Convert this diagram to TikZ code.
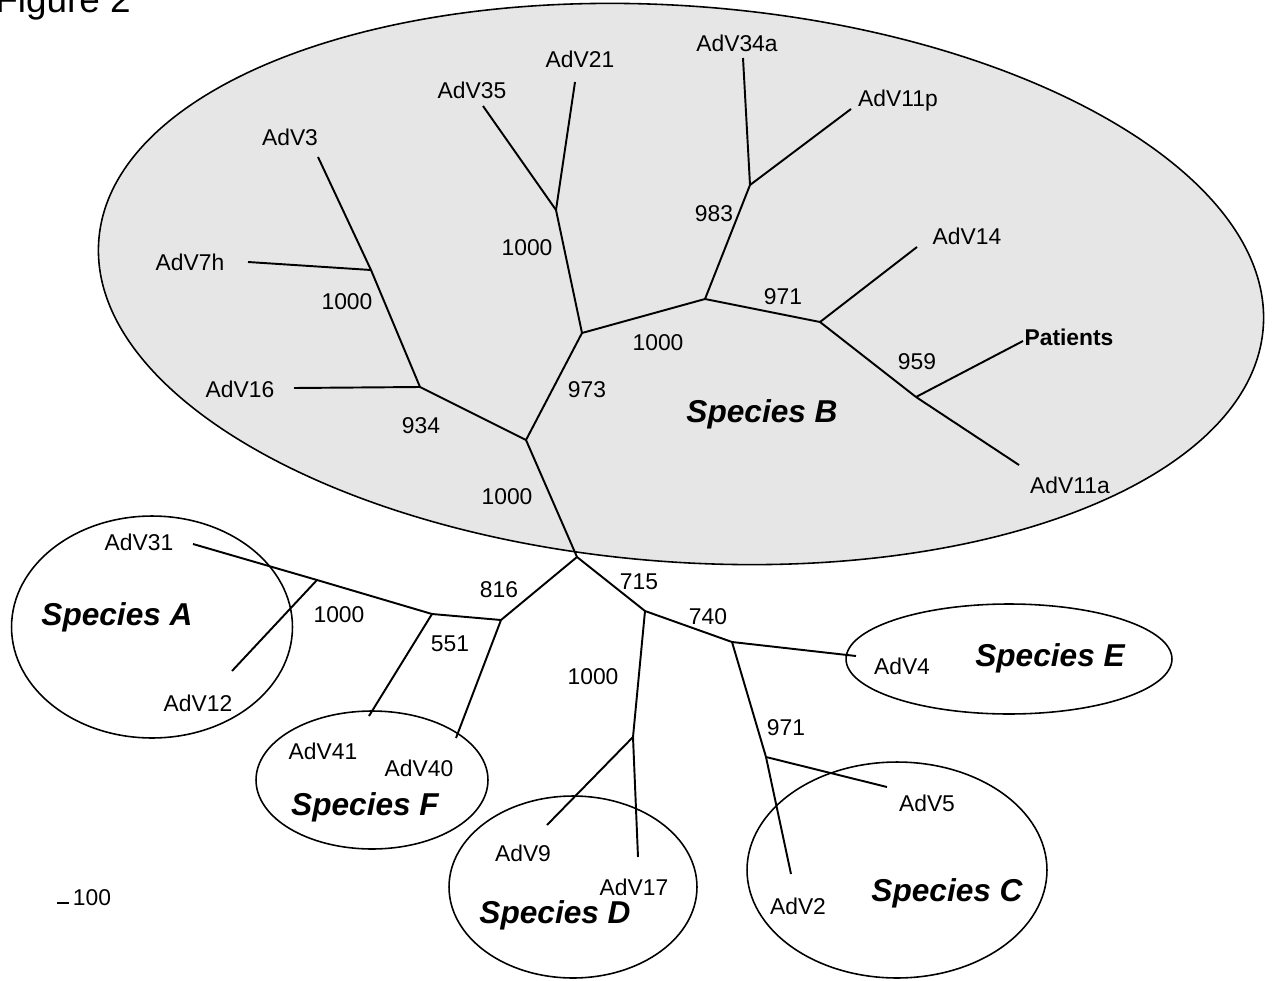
\documentclass[tikz,border=0pt]{standalone}
\usepackage{fontspec}
\setmainfont{Liberation Sans}
\definecolor{bgB}{RGB}{230,230,230}
\begin{document}
\begin{tikzpicture}[x=0.02cm,y=-0.02cm,
  lbl/.style={font=\fontsize{13}{15}\selectfont, inner sep=0pt},
  boot/.style={font=\fontsize{13}{15}\selectfont, inner sep=0pt},
  spec/.style={font=\fontsize{18}{21}\selectfont\bfseries\itshape, inner sep=0pt},
  branch/.style={line width=1.1pt},
  grp/.style={line width=0.9pt}]
\useasboundingbox (0,0) rectangle (1274,980);
% group outlines
\draw[grp, fill=bgB] (681,284) ellipse [x radius=11.68cm, y radius=5.56cm, rotate=-4.3];
\draw[grp] (152,627) ellipse [x radius=2.81cm, y radius=2.22cm];
\draw[grp] (372,780) ellipse [x radius=2.32cm, y radius=1.38cm];
\draw[grp] (573,887) ellipse [x radius=2.48cm, y radius=1.82cm];
\draw[grp] (897,870) ellipse [x radius=3.00cm, y radius=2.16cm];
\draw[grp] (1009,659) ellipse [x radius=3.26cm, y radius=1.10cm];
% tree points
\coordinate (root) at (577,557);
\coordinate (nB) at (526,440);
\coordinate (n934) at (420,387);
\coordinate (n1000a) at (371,270);
\coordinate (e16) at (294,388);
\coordinate (e7h) at (248,262);
\coordinate (e3) at (318,157);
\coordinate (n973) at (582,333);
\coordinate (n1000b) at (556,210);
\coordinate (e35) at (483,106);
\coordinate (e21) at (575,82);
\coordinate (n1000c) at (705,299);
\coordinate (n983) at (750,185);
\coordinate (e34a) at (743,58);
\coordinate (e11p) at (851,109);
\coordinate (n971) at (820,322);
\coordinate (e14) at (917,247);
\coordinate (n959) at (916,397);
\coordinate (ePat) at (1023,341);
\coordinate (e11a) at (1019,465);
\coordinate (n816) at (501,620);
\coordinate (n551) at (432,614);
\coordinate (nA) at (317,580);
\coordinate (e31) at (193,544);
\coordinate (e12) at (232,671);
\coordinate (e41) at (369,716);
\coordinate (e40) at (456,738);
\coordinate (n715) at (645,611);
\coordinate (nD) at (633,737);
\coordinate (e9) at (547,825);
\coordinate (e17) at (638,857);
\coordinate (n740) at (732,642);
\coordinate (e4) at (856,656);
\coordinate (nC) at (766,757);
\coordinate (e5) at (887,787);
\coordinate (e2) at (791,874);
% branches
\draw[branch] (root) -- (nB);
\draw[branch] (nB) -- (n934);
\draw[branch] (n934) -- (e16);
\draw[branch] (n934) -- (n1000a);
\draw[branch] (n1000a) -- (e7h);
\draw[branch] (n1000a) -- (e3);
\draw[branch] (nB) -- (n973);
\draw[branch] (n973) -- (n1000b);
\draw[branch] (n1000b) -- (e35);
\draw[branch] (n1000b) -- (e21);
\draw[branch] (n973) -- (n1000c);
\draw[branch] (n1000c) -- (n983);
\draw[branch] (n983) -- (e34a);
\draw[branch] (n983) -- (e11p);
\draw[branch] (n1000c) -- (n971);
\draw[branch] (n971) -- (e14);
\draw[branch] (n971) -- (n959);
\draw[branch] (n959) -- (ePat);
\draw[branch] (n959) -- (e11a);
\draw[branch] (root) -- (n816);
\draw[branch] (n816) -- (n551);
\draw[branch] (n551) -- (nA);
\draw[branch] (nA) -- (e31);
\draw[branch] (nA) -- (e12);
\draw[branch] (n551) -- (e41);
\draw[branch] (n816) -- (e40);
\draw[branch] (root) -- (n715);
\draw[branch] (n715) -- (nD);
\draw[branch] (nD) -- (e9);
\draw[branch] (nD) -- (e17);
\draw[branch] (n715) -- (n740);
\draw[branch] (n740) -- (e4);
\draw[branch] (n740) -- (nC);
\draw[branch] (nC) -- (e5);
\draw[branch] (nC) -- (e2);
% leaf labels
\node[lbl] (tAdV21) at (580,59) {AdV21};
\node[lbl] (tAdV35) at (472,90) {AdV35};
\node[lbl] (tAdV34a) at (737,43) {AdV34a};
\node[lbl] (tAdV11p) at (898,101) {AdV11p};
\node[lbl] (tAdV3) at (290,137) {AdV3};
\node[lbl] (tAdV7h) at (190,262) {AdV7h};
\node[lbl] (tAdV14) at (967,236) {AdV14};
\node[lbl, font=\fontsize{13}{15}\selectfont\bfseries] (tPat) at (1069,337) {Patients};
\node[lbl] (tAdV16) at (240,389) {AdV16};
\node[lbl] (tAdV11a) at (1070,485) {AdV11a};
\node[lbl] (tAdV31) at (139,542) {AdV31};
\node[lbl] (tAdV12) at (198,703) {AdV12};
\node[lbl] (tAdV41) at (323,751) {AdV41};
\node[lbl] (tAdV40) at (419,768) {AdV40};
\node[lbl] (tAdV9) at (523,853) {AdV9};
\node[lbl] (tAdV17) at (634,887) {AdV17};
\node[lbl] (tAdV4) at (902,666) {AdV4};
\node[lbl] (tAdV5) at (927,803) {AdV5};
\node[lbl] (tAdV2) at (798,906) {AdV2};
% bootstrap values
\node[boot] (b983) at (714,214) {983};
\node[boot] (b1000b) at (527,248) {1000};
\node[boot] (b971) at (783,297) {971};
\node[boot] (b1000a) at (347,302) {1000};
\node[boot] (b1000c) at (658,343) {1000};
\node[boot] (b959) at (917,362) {959};
\node[boot] (b973) at (587,390) {973};
\node[boot] (b934) at (421,426) {934};
\node[boot] (b1000r) at (507,497) {1000};
\node[boot] (b816) at (499,590) {816};
\node[boot] (b715) at (639,582) {715};
\node[boot] (b740) at (708,617) {740};
\node[boot] (b1000A) at (339,615) {1000};
\node[boot] (b551) at (450,644) {551};
\node[boot] (b1000D) at (593,677) {1000};
\node[boot] (b971C) at (786,728) {971};
% species labels
\node[spec] (sB) at (762,414) {Species B};
\node[spec] (sA) at (117,617) {Species A};
\node[spec] (sE) at (1050,658) {Species E};
\node[spec] (sF) at (365,807) {Species F};
\node[spec] (sD) at (555,915) {Species D};
\node[spec] (sC) at (947,893) {Species C};
% title and scale
\node[font=\fontsize{21}{25}\selectfont, anchor=base east, inner sep=0pt] (fig) at (131,13) {Figure 2};
\coordinate (sb1) at (57,903);
\coordinate (sb2) at (69,903);
\draw[line width=1.6pt] (sb1) -- (sb2);
\node[lbl] (sbl) at (92,898) {100};
\end{tikzpicture}
\end{document}
